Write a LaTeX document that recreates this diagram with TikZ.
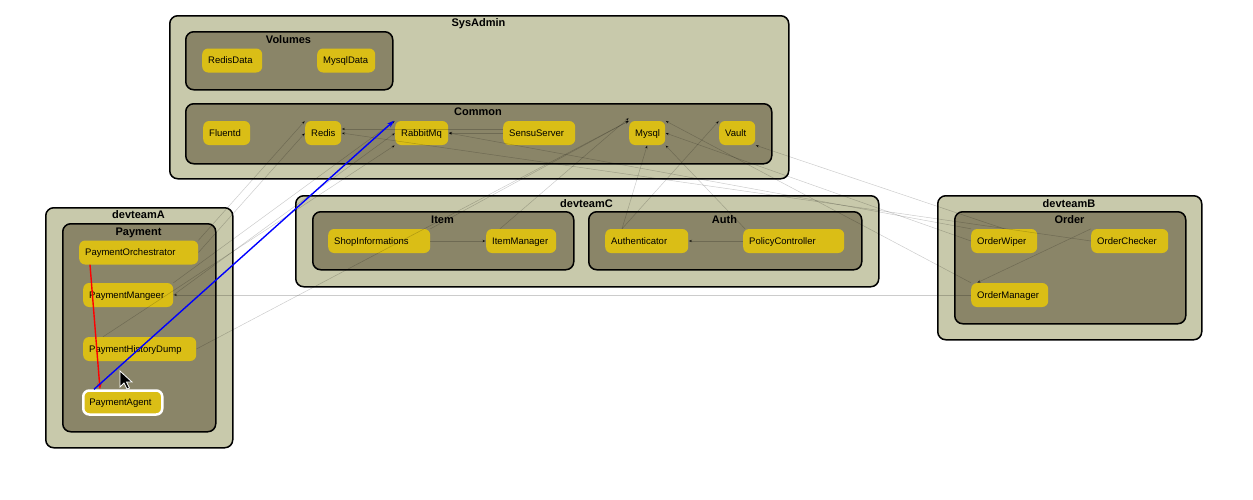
\documentclass[tikz,border=0pt]{standalone}
\usepackage{fontspec}
\setmainfont{Liberation Sans}
\usetikzlibrary{arrows.meta}
\definecolor{outerfill}{RGB}{200,201,171}
\definecolor{innerfill}{RGB}{138,133,104}
\definecolor{gold}{RGB}{218,190,22}
\begin{document}
\begin{tikzpicture}[x=1pt,y=-1pt,
 outerbox/.style={draw=black, line width=1.5pt, fill=outerfill, rounded corners=8pt, anchor=north west, inner sep=0pt},
 innerbox/.style={draw=black, line width=1.5pt, fill=innerfill, rounded corners=8pt, anchor=north west, inner sep=0pt},
 ttl/.style={font=\fontsize{11}{12}\selectfont\bfseries, anchor=base, inner sep=0pt},
 nodebox/.style={fill=gold, rounded corners=6pt, anchor=west, inner xsep=6pt, inner ysep=0pt, minimum height=24pt, text height=6.8pt, text depth=0pt, align=left, font=\fontsize{9.5}{11}\selectfont},
 faint/.style={draw=black, draw opacity=0.2, line width=0.5pt, -{Stealth[length=4pt,width=3pt]}},
]
\useasboundingbox[fill=white] (0,0) rectangle (1253,499);

% containers
\node[outerbox, minimum width=619pt, minimum height=163pt] (sysadmin) at (169,15) {};
\node[innerbox, minimum width=207pt, minimum height=58pt] (volumes) at (185,31) {};
\node[innerbox, minimum width=586pt, minimum height=60pt] (common) at (185,103) {};
\node[outerbox, minimum width=187pt, minimum height=240pt] (devA) at (45,207) {};
\node[innerbox, minimum width=153pt, minimum height=208pt] (payment) at (62,223) {};
\node[outerbox, minimum width=583pt, minimum height=91pt] (devC) at (295,195) {};
\node[innerbox, minimum width=261pt, minimum height=58pt] (item) at (312,211) {};
\node[innerbox, minimum width=273pt, minimum height=58pt] (authbox) at (588,211) {};
\node[outerbox, minimum width=264pt, minimum height=144pt] (devB) at (937,195) {};
\node[innerbox, minimum width=231pt, minimum height=112pt] (order) at (954,211) {};

% titles
\node[ttl] (tsys) at (478.5,26.5) {SysAdmin};
\node[ttl] (tvol) at (288.5,43.5) {Volumes};
\node[ttl] (tcom) at (478,115.5) {Common};
\node[ttl] (tdevA) at (138.5,218.5) {devteamA};
\node[ttl] (tpay) at (138.5,235.5) {Payment};
\node[ttl] (tdevC) at (586.5,207) {devteamC};
\node[ttl] (titem) at (442.5,223.5) {Item};
\node[ttl] (tauth) at (724.5,223.5) {Auth};
\node[ttl] (tdevB) at (1069,207) {devteamB};
\node[ttl] (torder) at (1069.5,223.5) {Order};

% leaf nodes
\node[nodebox, text width=48pt] (redisdata) at (202,60.5) {RedisData};
\node[nodebox, text width=46pt] (mysqldata) at (317,60.5) {MysqlData};
\node[nodebox, text width=35pt] (fluentd) at (203,133) {Fluentd};
\node[nodebox, text width=24pt] (redis) at (305,133) {Redis};
\node[nodebox, text width=41pt] (rabbit) at (395,133) {RabbitMq};
\node[nodebox, text width=60pt] (sensu) at (503,133) {SensuServer};
\node[nodebox, text width=24pt] (mysql) at (629,133) {Mysql};
\node[nodebox, text width=24pt] (vault) at (719,133) {Vault};
\node[nodebox, text width=107pt] (po) at (79,252.5) {PaymentOrchestrator};
\node[nodebox, text width=78pt] (pm) at (83,295) {PaymentMangeer};
\node[nodebox, text width=101pt] (ph) at (83,349) {PaymentHistoryDump};
\node[nodebox, text width=67pt, draw=white, line width=2.5pt] (pa) at (82,402.5) {PaymentAgent};
\node[nodebox, text width=90pt] (si) at (328,241) {ShopInformations};
\node[nodebox, text width=58pt] (im) at (486,241) {ItemManager};
\node[nodebox, text width=71pt] (auth) at (605,241) {Authenticator};
\node[nodebox, text width=89pt] (pc) at (743,241) {PolicyController};
\node[nodebox, text width=54pt] (ow) at (971,241) {OrderWiper};
\node[nodebox, text width=65pt] (oc) at (1091,241) {OrderChecker};
\node[nodebox, text width=65pt] (om) at (971,295) {OrderManager};

% faint dependency edges
\draw[faint] (po.north east) -- (redis.north west);
\draw[faint] (po.east) -- (redis.west);
\draw[faint] (pm.north east) -- (rabbit.north west);
\draw[faint] (pm.east) -- (rabbit.west);
\draw[faint] ([xshift=20pt]ph.north west) -- (rabbit.south west);
\draw[faint] (ph.east) -- (mysql.north west);
\draw[faint] (om.west) -- (pm.east);
\draw[faint] (oc.west) -- (redis.east);
\draw[faint] (ow.west) -- (mysql.east);
\draw[faint] (ow.north west) -- (rabbit.east);
\draw[faint] (om.north west) -- (mysql.north east);
\draw[faint] (ow.north) -- (vault.south east);
\draw[faint] (oc.north west) -- ([xshift=6pt]om.north west);
\draw[faint] (si.east) -- (im.west);
\draw[faint] (pc.west) -- (auth.east);
\draw[faint] ([xshift=17pt]auth.north west) -- (mysql.south);
\draw[faint] ([xshift=17pt]auth.north west) -- (vault.north west);
\draw[faint] ([xshift=2pt]pc.north west) -- (mysql.south east);
\draw[faint] (si.north east) -- (mysql.north west);
\draw[faint] ([xshift=14pt]im.north west) -- ([yshift=3pt]mysql.north west);
\draw[faint] (sensu.west) -- (rabbit.east);
\draw[faint] ([yshift=4pt]sensu.west) -- ([yshift=4pt]redis.east);

% highlighted edges
\draw[red, line width=1.4pt, -{Stealth[length=6pt,width=4.5pt]}] ([xshift=11pt]po.south west) -- ([xshift=18pt]pa.north west);
\draw[blue, line width=1.4pt, -{Stealth[length=7pt,width=5pt]}] ([xshift=12pt]pa.north west) -- ([xshift=-1pt]rabbit.north west);

% mouse cursor
\filldraw[fill=black, draw=white, line width=0.8pt] (120,371) -- ++(0,16) -- ++(4,-4) -- ++(3,6) -- ++(2.5,-1) -- ++(-3,-6) -- ++(5.5,0) -- cycle;
\end{tikzpicture}
\end{document}
